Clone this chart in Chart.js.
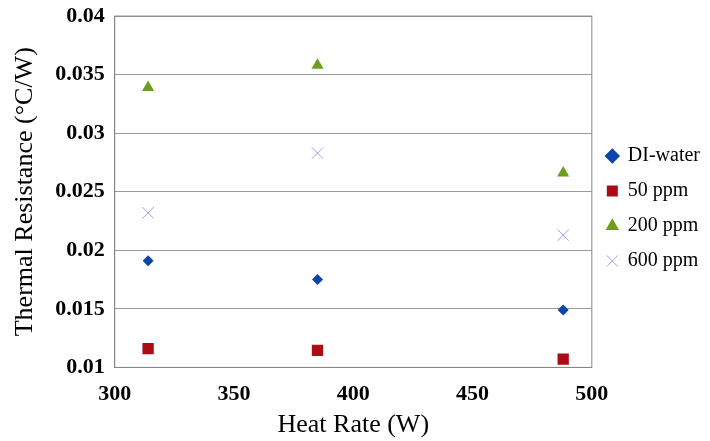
<!DOCTYPE html>
<html lang="en">
<head>
    <meta charset="UTF-8">
    <title>Thermal Resistance vs Heat Rate</title>
    <script src="https://cdn.jsdelivr.net/npm/chart.js"></script>
    <style>
        html, body { margin: 0; padding: 0; background: #fff; }
        #wrap { width: 710px; height: 441px; }
    </style>
</head>
<body>
    <div id="wrap"><canvas id="chart"></canvas></div>

    <script>
        const heatRates = [314, 385, 488];
        const diWater = [0.0191, 0.0175, 0.0149];
        const ppm50 = [0.0116, 0.01145, 0.0107];
        const ppm200 = [0.0339, 0.0358, 0.0266];
        const ppm600 = [0.0232, 0.0283, 0.0213];
        const seriesNames = ['DI-water', '50 ppm', '200 ppm', '600 ppm'];

        function pts(ys) {
            return heatRates.map((x, i) => ({ x: x, y: ys[i] }));
        }

        const serif = "'Liberation Serif', 'Times New Roman', serif";

        new Chart(document.getElementById('chart').getContext('2d'), {
            type: 'scatter',
            data: {
                datasets: [
                    { label: seriesNames[0], data: pts(diWater), pointStyle: 'rectRot', radius: 5.5,
                      backgroundColor: '#0a46a8', borderColor: '#0a46a8', borderWidth: 0 },
                    { label: seriesNames[1], data: pts(ppm50), pointStyle: 'rect', radius: 8,
                      backgroundColor: '#ac0c13', borderColor: '#ac0c13', borderWidth: 0 },
                    { label: seriesNames[2], data: pts(ppm200), pointStyle: 'triangle', radius: 7,
                      backgroundColor: '#6b9e1f', borderColor: '#6b9e1f', borderWidth: 0 },
                    { label: seriesNames[3], data: pts(ppm600), pointStyle: 'crossRot', radius: 8,
                      backgroundColor: '#a39bd8', borderColor: '#a39bd8', borderWidth: 1 }
                ]
            },
            options: {
                responsive: true,
                maintainAspectRatio: false,
                animation: false,
                layout: { padding: { top: 0, right: 0, bottom: 0, left: 10 } },
                plugins: {
                    legend: {
                        position: 'right',
                        align: 'start',
                        // blank title only pushes the entries down to where they sit in the original
                        title: { display: true, text: ' ', padding: { top: 107, bottom: 0 },
                                 font: { family: serif, size: 20 } },
                        labels: {
                            usePointStyle: true,
                            boxHeight: 11,
                            boxWidth: 11,
                            padding: 15,
                            color: '#000',
                            font: { family: serif, size: 20 }
                        }
                    },
                    tooltip: { enabled: false }
                },
                scales: {
                    x: {
                        min: 300, max: 500,
                        ticks: { stepSize: 50, color: '#000', padding: 14,
                                 font: { family: serif, size: 22, weight: 'bold' } },
                        grid: { display: false, drawTicks: false },
                        border: { color: '#888', width: 1 },
                        title: { display: true, text: 'Heat Rate (W)', color: '#000',
                                 padding: { top: -12, bottom: 0 },
                                 font: { family: serif, size: 26 } }
                    },
                    y: {
                        min: 0.01, max: 0.04,
                        ticks: { stepSize: 0.005, color: '#000', padding: 10,
                                 font: { family: serif, size: 22, weight: 'bold', lineHeight: 0.55 },
                                 callback: v => +v.toFixed(3) },
                        grid: { color: '#999', drawTicks: false },
                        border: { color: '#888', width: 1 },
                        title: { display: true, text: 'Thermal Resistance (°C/W)', color: '#000',
                                 padding: { top: 0, bottom: 4 },
                                 font: { family: serif, size: 26 } }
                    }
                }
            },
            plugins: [{
                id: 'frame',
                afterDraw(chart) {
                    const a = chart.chartArea, c = chart.ctx;
                    c.save();
                    c.strokeStyle = '#888';
                    c.lineWidth = 1;
                    c.strokeRect(a.left, a.top, a.right - a.left, a.bottom - a.top);
                    c.restore();
                }
            }]
        });
    </script>
</body>
</html>
